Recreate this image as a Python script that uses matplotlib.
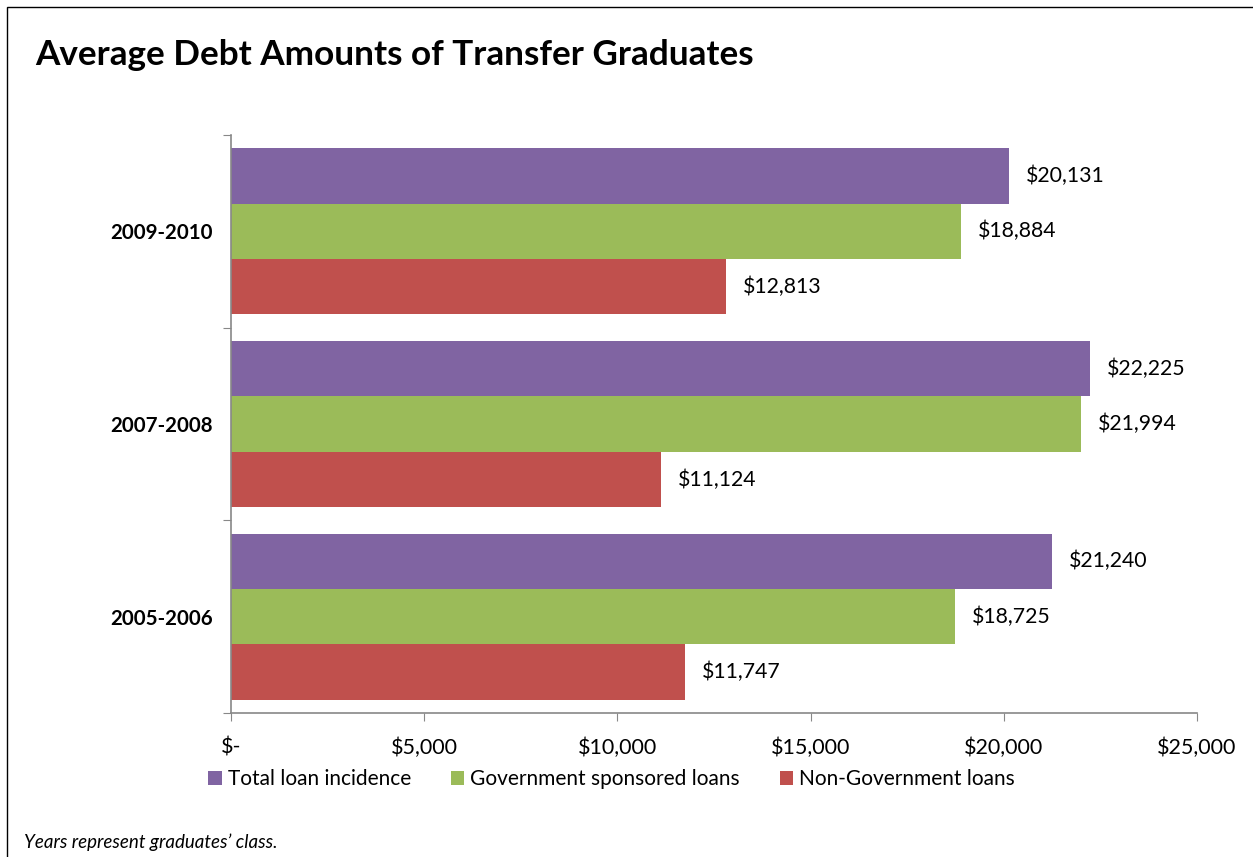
import matplotlib
matplotlib.use("Agg")
import matplotlib.pyplot as plt
from matplotlib.patches import Rectangle, Patch
import numpy as np

# Data
years = ["2005-2006", "2007-2008", "2009-2010"]
series_names = ["Total loan incidence", "Government sponsored loans", "Non-Government loans"]
total_loan = [21240, 22225, 20131]
gov_loans = [18725, 21994, 18884]
nongov_loans = [11747, 11124, 12813]
x_ticks = [0, 5000, 10000, 15000, 20000, 25000]
x_tick_labels = ["$-", "$5,000", "$10,000", "$15,000", "$20,000", "$25,000"]

colors = ["#8064A2", "#9BBB59", "#C0504D"]
font = ["Lato", "DejaVu Sans"]
plt.rcParams["font.family"] = font

W, H = 1253, 857
fig = plt.figure(figsize=(W / 100, H / 100), dpi=100)

# Outer frame
fig.patches.append(Rectangle((7 / W, -0.01), 1.2, 1 - 7 / H + 0.01, transform=fig.transFigure,
                             fill=False, edgecolor="black", linewidth=1.0))

ax = fig.add_axes([231 / W, 1 - 713 / H, (1197 - 231) / W, (713 - 135) / H])

bar_h = 0.2875
centers = np.arange(len(years)) + 0.5
all_series = [total_loan, gov_loans, nongov_loans]
offsets = [bar_h, 0.0, -bar_h]
for vals, off, col, name in zip(all_series, offsets, colors, series_names):
    bars = ax.barh(centers + off, vals, height=bar_h, color=col, label=name, edgecolor="none")
    for b, v in zip(bars, vals):
        ax.text(v + 440, b.get_y() + b.get_height() / 2, f"${v:,}", va="center", ha="left",
                fontsize=15.3, color="black")

ax.set_xlim(0, 25000)
ax.set_ylim(0, 3)
ax.set_xticks(x_ticks)
ax.set_xticklabels(x_tick_labels, fontsize=15.5)
ax.set_yticks([0, 1, 2, 3])
ax.set_yticklabels([])
ax.set_yticks(centers, minor=True)
ax.set_yticklabels(years, minor=True, fontsize=14.8, fontweight="bold")
ax.tick_params(axis="y", which="minor", length=0, pad=13)
ax.tick_params(axis="y", which="major", length=6, color="#888888", direction="out")
ax.tick_params(axis="x", length=6, color="#888888", direction="out", pad=12)

for s in ["top", "right"]:
    ax.spines[s].set_visible(False)
for s in ["left", "bottom"]:
    ax.spines[s].set_color("#888888")
    ax.spines[s].set_linewidth(1.2)

fig.text(35 / W, 1 - 55 / H, "Average Debt Amounts of Transfer Graduates", fontsize=25.3,
         fontweight="bold", va="center", ha="left")

handles = [Patch(facecolor=c, edgecolor="none") for c in colors]
fig.legend(handles, series_names, loc="center left", bbox_to_anchor=(208 / W, 1 - 779 / H),
           ncol=3, frameon=False, fontsize=15, handlelength=0.65, handleheight=0.65,
           handletextpad=0.3, columnspacing=1.9, borderaxespad=0, borderpad=0)

fig.text(24 / W, 1 - 842 / H, "Years represent graduates\u2019 class.", fontsize=13.5,
         style="italic", va="center", ha="left")

fig.savefig("out.png", dpi=100)
